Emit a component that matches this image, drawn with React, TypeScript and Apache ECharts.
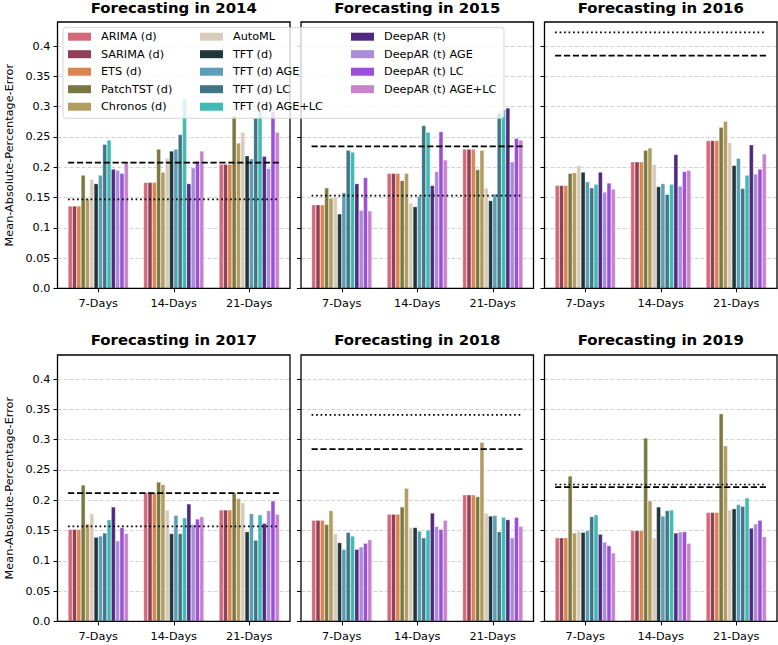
import React, { useEffect, useRef } from 'react';
import * as echarts from 'echarts';

const categories = ['7-Days', '14-Days', '21-Days'];
const models = [
  'ARIMA (d)', 'SARIMA (d)', 'ETS (d)', 'PatchTST (d)', 'Chronos (d)', 'AutoML',
  'TFT (d)', 'TFT (d) AGE', 'TFT (d) LC', 'TFT (d) AGE+LC',
  'DeepAR (t)', 'DeepAR (t) AGE', 'DeepAR (t) LC', 'DeepAR (t) AGE+LC',
];
const modelColors = [
  '#d16b7c', '#8f3f56', '#d98550', '#7b7941', '#b39c61', '#d7cbbc',
  '#22363a', '#5c9eb6', '#3f7586', '#40bab3',
  '#50297f', '#a98bd8', '#9b4fd9', '#c783cd',
];
const years = ['2014', '2015', '2016', '2017', '2018', '2019'];
const yTicks = [0, 0.05, 0.1, 0.15, 0.2, 0.25, 0.3, 0.35, 0.4];

// rows: models (same order as `models`), columns: categories
const mape2014 = [
  [0.136, 0.175, 0.205], [0.136, 0.175, 0.205], [0.136, 0.175, 0.205],
  [0.187, 0.230, 0.285], [0.148, 0.192, 0.240], [0.180, 0.215, 0.258],
  [0.173, 0.227, 0.219], [0.187, 0.230, 0.214], [0.238, 0.254, 0.282], [0.245, 0.313, 0.293],
  [0.197, 0.173, 0.218], [0.195, 0.199, 0.198], [0.190, 0.210, 0.292], [0.209, 0.227, 0.258],
];
const mape2015 = [
  [0.138, 0.190, 0.230], [0.138, 0.190, 0.230], [0.138, 0.190, 0.230],
  [0.166, 0.178, 0.196], [0.149, 0.190, 0.228], [0.151, 0.141, 0.166],
  [0.123, 0.135, 0.145], [0.158, 0.152, 0.156], [0.228, 0.269, 0.290], [0.225, 0.258, 0.295],
  [0.173, 0.170, 0.298], [0.129, 0.193, 0.209], [0.183, 0.259, 0.248], [0.128, 0.212, 0.245],
];
const mape2016 = [
  [0.170, 0.209, 0.244], [0.170, 0.209, 0.244], [0.170, 0.209, 0.244],
  [0.190, 0.228, 0.266], [0.191, 0.232, 0.276], [0.203, 0.205, 0.241],
  [0.192, 0.168, 0.203], [0.176, 0.173, 0.215], [0.166, 0.155, 0.165], [0.172, 0.172, 0.187],
  [0.192, 0.221, 0.237], [0.159, 0.169, 0.189], [0.174, 0.193, 0.197], [0.164, 0.195, 0.222],
];
const mape2017 = [
  [0.152, 0.213, 0.184], [0.152, 0.213, 0.184], [0.152, 0.213, 0.184],
  [0.225, 0.230, 0.212], [0.161, 0.226, 0.203], [0.178, 0.184, 0.196],
  [0.139, 0.145, 0.148], [0.141, 0.175, 0.178], [0.146, 0.145, 0.134], [0.168, 0.171, 0.176],
  [0.189, 0.194, 0.162], [0.133, 0.160, 0.183], [0.155, 0.169, 0.199], [0.145, 0.173, 0.177],
];
const mape2018 = [
  [0.167, 0.177, 0.209], [0.167, 0.177, 0.209], [0.167, 0.177, 0.209],
  [0.160, 0.189, 0.206], [0.183, 0.220, 0.296], [0.145, 0.155, 0.179],
  [0.130, 0.155, 0.174], [0.119, 0.149, 0.175], [0.147, 0.138, 0.148], [0.141, 0.151, 0.172],
  [0.119, 0.179, 0.168], [0.123, 0.157, 0.138], [0.129, 0.152, 0.172], [0.135, 0.167, 0.157],
];
const mape2019 = [
  [0.138, 0.150, 0.180], [0.138, 0.150, 0.180], [0.138, 0.150, 0.180],
  [0.240, 0.303, 0.343], [0.146, 0.199, 0.290], [0.149, 0.138, 0.184],
  [0.147, 0.189, 0.186], [0.150, 0.174, 0.193], [0.173, 0.183, 0.190], [0.176, 0.184, 0.204],
  [0.144, 0.146, 0.154], [0.131, 0.148, 0.161], [0.125, 0.148, 0.167], [0.113, 0.129, 0.140],
];
const mapeByYear = [mape2014, mape2015, mape2016, mape2017, mape2018, mape2019];
const dashedRef = [0.2075, 0.2344, 0.3846, 0.2118, 0.2845, 0.2217];
const dottedRef = [0.147, 0.153, 0.423, 0.1568, 0.341, 0.226];

const FONT = 'DejaVu Sans';
const W = 778;
const H = 645;
const panelLeft = [57.5, 301, 544.5];
const rowTop = [22, 355];
const PW = 232.5;
const PH = 266.3;
const INSET = 3;
const YMAX = 0.44;

function buildOption() {
  const grid: any[] = [];
  const xAxis: any[] = [];
  const yAxis: any[] = [];
  const series: any[] = [];
  const graphic: any[] = [];

  years.forEach((year, p) => {
    const col = p % 3;
    const row = Math.floor(p / 3);
    const left = panelLeft[col];
    const top = rowTop[row];
    const fi = 2 * p;
    const di = 2 * p + 1;

    grid.push({
      left, top, width: PW, height: PH, show: true, z: 3,
      borderColor: '#000', borderWidth: 1.3, backgroundColor: 'transparent',
    });
    grid.push({ left: left + INSET, top, width: PW - 2 * INSET, height: PH });

    xAxis.push({
      type: 'value', gridIndex: fi, min: -0.54, max: 2.54, show: false,
      axisLine: { show: false, onZero: false },
    });
    xAxis.push({
      type: 'category', gridIndex: di, data: categories, boundaryGap: true, position: 'bottom',
      axisLine: { show: false, onZero: false },
      axisTick: { show: true, alignWithLabel: true, length: 4, lineStyle: { color: '#000', width: 1 } },
      axisLabel: { show: true, margin: 10, fontSize: 11.25, fontFamily: FONT, color: '#000' },
      splitLine: { show: false },
    });

    yAxis.push({
      type: 'value', gridIndex: fi, min: 0, max: YMAX, interval: 0.05, position: 'left',
      axisLine: { show: false, onZero: false },
      axisTick: { show: true, length: 4, customValues: yTicks, lineStyle: { color: '#000', width: 1 } },
      axisLabel: {
        show: col === 0, customValues: yTicks, margin: 7, fontSize: 11.25, fontFamily: FONT, color: '#000',
        formatter: (v: number) => (v === 0 ? '0.0' : v > 0.41 ? '' : String(parseFloat(v.toFixed(2)))),
      },
      splitLine: { show: true, lineStyle: { color: '#d2d2d2', width: 1, type: [4, 2] } },
    });
    yAxis.push({
      type: 'value', gridIndex: di, min: 0, max: YMAX, show: false,
      axisLine: { show: false, onZero: false }, splitLine: { show: false },
    });

    const vals = mapeByYear[p];
    models.forEach((name, m) => {
      series.push({
        type: 'bar', name, xAxisIndex: di, yAxisIndex: di,
        data: vals[m],
        barGap: '0%', barCategoryGap: '20%',
        itemStyle: { color: modelColors[m], borderColor: 'rgba(255,255,255,0.55)', borderWidth: 0.5 },
        emphasis: { disabled: true },
        z: 2,
      });
    });

    series.push({
      type: 'line', name: 'dashed-' + year, xAxisIndex: fi, yAxisIndex: fi,
      data: [[-0.4, dashedRef[p]], [2.4, dashedRef[p]]],
      symbol: 'none', silent: true, z: 5,
      lineStyle: { color: '#000', width: 1.7, type: [6.2, 2.7] },
    });
    series.push({
      type: 'line', name: 'dotted-' + year, xAxisIndex: fi, yAxisIndex: fi,
      data: [[-0.4, dottedRef[p]], [2.4, dottedRef[p]]],
      symbol: 'none', silent: true, z: 5,
      lineStyle: { color: '#000', width: 1.7, type: [1.7, 2.8] },
    });

    graphic.push({
      type: 'text', x: left + PW / 2, y: row === 0 ? 8 : 340, z: 20,
      style: {
        text: 'Forecasting in ' + year, fontSize: 14.9, fontWeight: 'bold', fontFamily: FONT,
        fill: '#000', textAlign: 'center', textVerticalAlign: 'middle',
      },
    });
  });

  [0, 1].forEach((row) => {
    graphic.push({
      type: 'text', x: 9, y: rowTop[row] + PH / 2, rotation: Math.PI / 2, z: 20,
      style: {
        text: 'Mean-Absolute-Percentage-Error', fontSize: 11.25, fontFamily: FONT,
        fill: '#000', textAlign: 'center', textVerticalAlign: 'middle',
      },
    });
  });

  graphic.push({
    type: 'rect', z: 50, silent: true,
    shape: { x: 63, y: 27.6, width: 441, height: 90.7, r: 3 },
    style: { fill: 'rgba(255,255,255,0.8)', stroke: 'rgba(204,204,204,0.8)', lineWidth: 1 },
  });

  const legendCols = [models.slice(0, 5), models.slice(5, 10), models.slice(10, 14)];
  const legendLeft = [68, 200, 351];
  const legend = legendCols.map((names, i) => ({
    show: true, orient: 'vertical', left: legendLeft[i], top: 29.7, padding: 0,
    itemGap: 3.5, itemWidth: 23, itemHeight: 8, icon: 'rect', selectedMode: false, z: 60,
    data: names,
    itemStyle: { borderWidth: 0 },
    textStyle: { fontSize: 11.25, fontFamily: FONT, color: '#000', lineHeight: 14, padding: [0, 0, 0, 5] },
  }));

  return {
    animation: false,
    textStyle: { fontFamily: FONT },
    grid, xAxis, yAxis, series, legend, graphic,
  };
}

export default function App() {
  const ref = useRef<HTMLDivElement>(null);
  useEffect(() => {
    document.body.style.margin = '0';
    if (!ref.current) return;
    const chart = echarts.init(ref.current, null, { renderer: 'svg', width: W, height: H });
    chart.setOption(buildOption() as any);
    return () => chart.dispose();
  }, []);
  return <div ref={ref} style={{ position: 'absolute', left: 0, top: 0, width: W, height: H, background: '#fff' }} />;
}
